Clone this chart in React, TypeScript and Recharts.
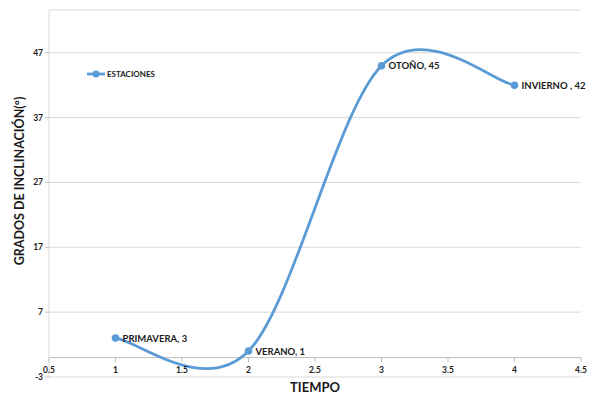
import { LineChart, Line, XAxis, YAxis, CartesianGrid, ReferenceLine, Legend } from 'recharts';

const seasons = ['PRIMAVERA', 'VERANO', 'OTOÑO', 'INVIERNO '];
const tiempo = [1, 2, 3, 4];
const grados = [3, 1, 45, 42];
const xTicks = [0.5, 1, 1.5, 2, 2.5, 3, 3.5, 4, 4.5];
const yTicks = [-3, 7, 17, 27, 37, 47];

const data = tiempo.map((t, i) => ({ t, grados: grados[i], name: seasons[i] }));

const BLUE = '#5b9bd5';
const FONT = 'Lato, "Open Sans", sans-serif';

// Excel-style smoothed line (Catmull-Rom through the points)
const excelSmooth = (context: any) => {
  let px: number[] = [];
  let py: number[] = [];
  return {
    areaStart() {},
    areaEnd() {},
    lineStart() {
      px = [];
      py = [];
    },
    point(x: number, y: number) {
      px.push(+x);
      py.push(+y);
    },
    lineEnd() {
      const n = px.length;
      if (!n) return;
      context.moveTo(px[0], py[0]);
      for (let i = 0; i < n - 1; i++) {
        const a = Math.max(i - 1, 0);
        const d = Math.min(i + 2, n - 1);
        const c1x = px[i] + (px[i + 1] - px[a]) / 6;
        const c1y = py[i] + (py[i + 1] - py[a]) / 6;
        const c2x = px[i + 1] - (px[d] - px[i]) / 6;
        const c2y = py[i + 1] - (py[d] - py[i]) / 6;
        context.bezierCurveTo(c1x, c1y, c2x, c2y, px[i + 1], py[i + 1]);
      }
    },
  };
};

const XTick = ({ x, y, payload }: any) => (
  <g>
    <line x1={x} x2={x} y1={y - 19} y2={y - 15} stroke="#bfbfbf" />
    <text x={x} y={y - 4} textAnchor="middle" fontSize={8.5} fontWeight={700} fill="#1a1a1a" fontFamily={FONT}>
      {payload.value}
    </text>
  </g>
);

const PointLabel = ({ x, y, index }: any) => (
  <text x={x + 7} y={y + 3.5} fontSize={9.5} fontWeight={700} fill="#1a1a1a" fontFamily={FONT}>
    {`${seasons[index]}, ${grados[index]}`}
  </text>
);

const LegendBox = () => (
  <div style={{ display: 'flex', alignItems: 'center', fontFamily: FONT, fontSize: 8, fontWeight: 700, color: '#1a1a1a' }}>
    <svg width={18} height={8}>
      <line x1={0} x2={18} y1={4} y2={4} stroke={BLUE} strokeWidth={2.75} />
      <circle cx={9} cy={4} r={3.5} fill={BLUE} />
    </svg>
    <span style={{ marginLeft: 2 }}>ESTACIONES</span>
  </div>
);

export default function App() {
  return (
    <div style={{ position: 'absolute', left: 0, top: 0, width: 589, height: 397, background: '#fff' }}>
      <LineChart width={589} height={397} data={data} margin={{ top: 10, right: 8, bottom: 0, left: 0 }}>
        <CartesianGrid vertical={false} stroke="#d9d9d9" />
        <XAxis
          type="number"
          dataKey="t"
          domain={[0.5, 4.5]}
          ticks={xTicks}
          axisLine={false}
          tickLine={false}
          tickSize={0}
          tickMargin={0}
          height={20}
          tick={<XTick />}
          interval={0}
        />
        <YAxis
          type="number"
          domain={[-3, 53.6]}
          ticks={yTicks}
          width={49}
          axisLine={{ stroke: '#d9d9d9' }}
          tickLine={{ stroke: '#bfbfbf' }}
          tickSize={4}
          tick={{ fontSize: 8.5, fontWeight: 700, fill: '#1a1a1a', fontFamily: FONT }}
          interval={0}
        />
        <ReferenceLine y={0} stroke="#bfbfbf" />
        <Legend
          layout="horizontal"
          verticalAlign="middle"
          align="center"
          content={<LegendBox />}
          wrapperStyle={{ position: 'absolute', left: 87, top: 69, width: 'auto' }}
        />
        <Line
          dataKey="grados"
          name="ESTACIONES"
          type={excelSmooth as any}
          stroke={BLUE}
          strokeWidth={2.75}
          dot={{ r: 3.8, fill: BLUE, stroke: 'none' }}
          label={<PointLabel />}
          isAnimationActive={false}
        />
        <text
          x={21}
          y={181}
          transform="rotate(-90 21 181)"
          textAnchor="middle"
          dominantBaseline="middle"
          fontSize={12.5}
          fontWeight={700}
          fill="#1a1a1a"
          fontFamily={FONT}
        >
          GRADOS DE INCLINACIÓN(°)
        </text>
        <text x={315} y={392} textAnchor="middle" fontSize={13} fontWeight={700} fill="#1a1a1a" fontFamily={FONT}>
          TIEMPO
        </text>
      </LineChart>
    </div>
  );
}
